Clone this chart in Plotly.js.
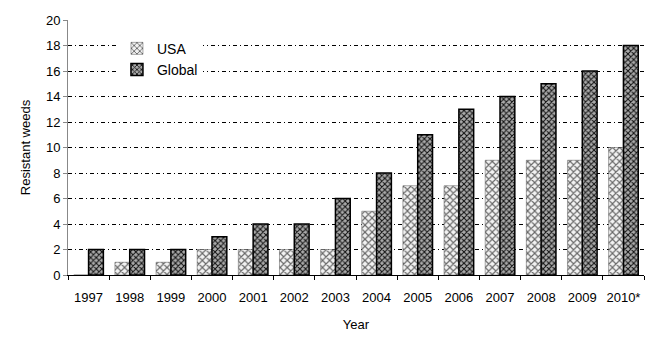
<!DOCTYPE html>
<html><head><meta charset="utf-8">
<script src="https://cdn.plot.ly/plotly-3.0.1.min.js"></script>
<style>body{margin:0;background:#fff}</style>
</head><body>
<div id="chart" style="width:653px;height:361px"></div>
<script>
const years = ["1997","1998","1999","2000","2001","2002","2003","2004","2005","2006","2007","2008","2009","2010*"];
const usa = [0,1,1,2,2,2,2,5,7,7,9,9,9,10];
const globalVals = [2,2,2,3,4,4,6,8,11,13,14,15,16,18];
const yTicks = [0,2,4,6,8,10,12,14,16,18,20];

const fam = "Liberation Sans, Arial, sans-serif";
const font = {family:fam, size:13, color:"#000"};
const data = [
  {type:"bar", name:"USA", x:years, y:usa,
   marker:{color:"#ffffff", line:{color:"#555", width:0.5},
     pattern:{shape:"x", fgcolor:"#666", bgcolor:"#f2f2f2", size:5, solidity:0.4}}},
  {type:"bar", name:"Global", x:years, y:globalVals,
   marker:{color:"#555", line:{color:"#000", width:1.5},
     pattern:{shape:"x", fgcolor:"#111", bgcolor:"#aaa", size:4, solidity:0.45}}}
];
const layout = {
  width:653, height:361,
  margin:{l:68, r:9, t:20, b:86},
  paper_bgcolor:"#fff", plot_bgcolor:"#fff",
  font: font,
  barmode:"group", bargap:0.28, bargroupgap:0,
  showlegend:true,
  legend:{x:0.085, y:0.95, xanchor:"left", yanchor:"top", bgcolor:"#fff",
    font:{family:fam, size:14, color:"#000"}, itemwidth:30, tracegroupgap:14},
  xaxis:{type:"category", tickson:"boundaries", ticks:"outside", ticklen:4, tickcolor:"#000",
    showline:true, linecolor:"#000", linewidth:1, showgrid:false,
    tickangle:0, ticklabelstandoff:10,
    tickfont:{family:fam, size:13, color:"#000"},
    title:{text:"Year", font:{family:fam, size:13, color:"#000"}, standoff:16}},
  yaxis:{range:[0,20], tickvals:yTicks, ticks:"outside", ticklen:4, tickcolor:"#888",
    showline:true, linecolor:"#888", linewidth:1,
    showgrid:true, gridcolor:"#000", gridwidth:1, griddash:"4px,3px,1px,3px",
    zeroline:false,
    tickfont:{family:fam, size:13, color:"#000"},
    title:{text:"Resistant weeds", font:{family:fam, size:13, color:"#000"}, standoff:12}}
};
Plotly.newPlot("chart", data, layout, {displayModeBar:false, staticPlot:true});
</script>
</body></html>
